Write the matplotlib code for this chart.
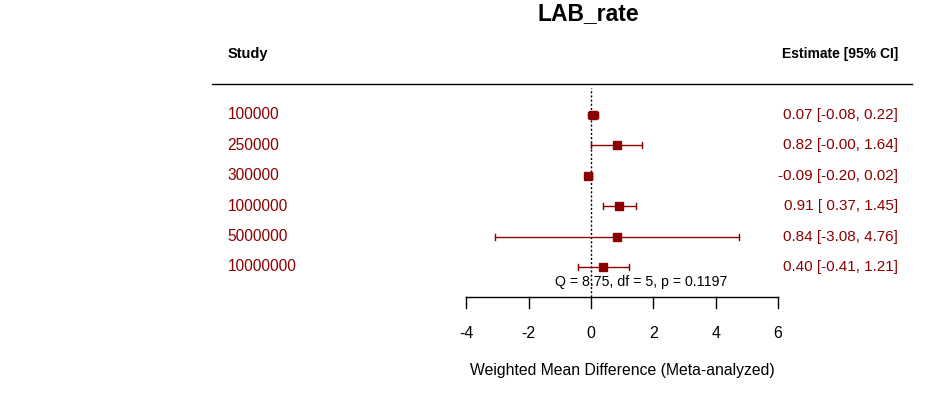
import numpy as np
import matplotlib.pyplot as plt

plt.rcParams['font.family'] = ['Liberation Sans', 'DejaVu Sans']

# ------------------------------
# Data
# ------------------------------
studies = ["100000", "250000", "300000", "1000000", "5000000", "10000000"]
estimate = [0.07, 0.82, -0.09, 0.91, 0.84, 0.40]
ci_low = [-0.08, -0.00, -0.20, 0.37, -3.08, -0.41]
ci_high = [0.22, 1.64, 0.02, 1.45, 4.76, 1.21]
xticks = [-4, -2, 0, 2, 4, 6]
q_text = "Q = 8.75, df = 5, p = 0.1197"

red = "#8B0000"

# ------------------------------
# Layout: one axes over the whole figure, data units on x, rows on y
# ------------------------------
fig = plt.figure(figsize=(9.37, 3.93), dpi=100)
ax = fig.add_axes([0, 0, 1, 1])
ax.set_xlim(-18.94, 11.09)
ax.set_ylim(-3.145, 9.78)
ax.axis('off')

k = len(studies)
rows = np.arange(k, 0, -1)

x_lab = -11.65   # left column for study names
x_est = 9.85     # right edge for estimate text

# title and headers
ax.text(-0.1, 9.35, "LAB_rate", ha='center', va='center', fontsize=16.5, fontweight='bold')
ax.text(x_lab, 8.0, "Study", ha='left', va='center', fontsize=10.5, fontweight='bold')
ax.text(x_est, 8.0, "Estimate [95% CI]", ha='right', va='center', fontsize=10, fontweight='bold')
ax.plot([-12.15, 10.3], [7.02, 7.02], color='black', lw=1)

# reference line at 0
ax.plot([0, 0], [0, 6.9], color='black', lw=1, ls=(0, (1.5, 1.5)))

# CIs and squares
for r, est, lo, hi, name in zip(rows, estimate, ci_low, ci_high, studies):
    ax.plot([lo, hi], [r, r], color=red, lw=1)
    ax.plot([lo, lo], [r - 0.1, r + 0.1], color=red, lw=1)
    ax.plot([hi, hi], [r - 0.1, r + 0.1], color=red, lw=1)
    ax.plot(est, r, marker='s', ms=6.2, color=red, mec=red)
    ax.text(x_lab, r, name, ha='left', va='center', fontsize=11.2, color=red)
    ax.text(x_est, r, f"{est:.2f} [{lo:.2f}, {hi:.2f}]".replace("[0", "[ 0"),
            ha='right', va='center', fontsize=11, color=red)

# heterogeneity text
ax.text(1.61, 0.5, q_text, ha='center', va='center', fontsize=10.2)

# x axis
ax.plot([xticks[0], xticks[-1]], [0, 0], color='black', lw=1)
for t in xticks:
    ax.plot([t, t], [0, -0.36], color='black', lw=1)
    ax.text(t, -1.2, f"{t}", ha='center', va='center', fontsize=11.5)
ax.text(1.0, -2.4, "Weighted Mean Difference (Meta-analyzed)", ha='center', va='center', fontsize=11.3)

fig.savefig("out.png", dpi=100)
